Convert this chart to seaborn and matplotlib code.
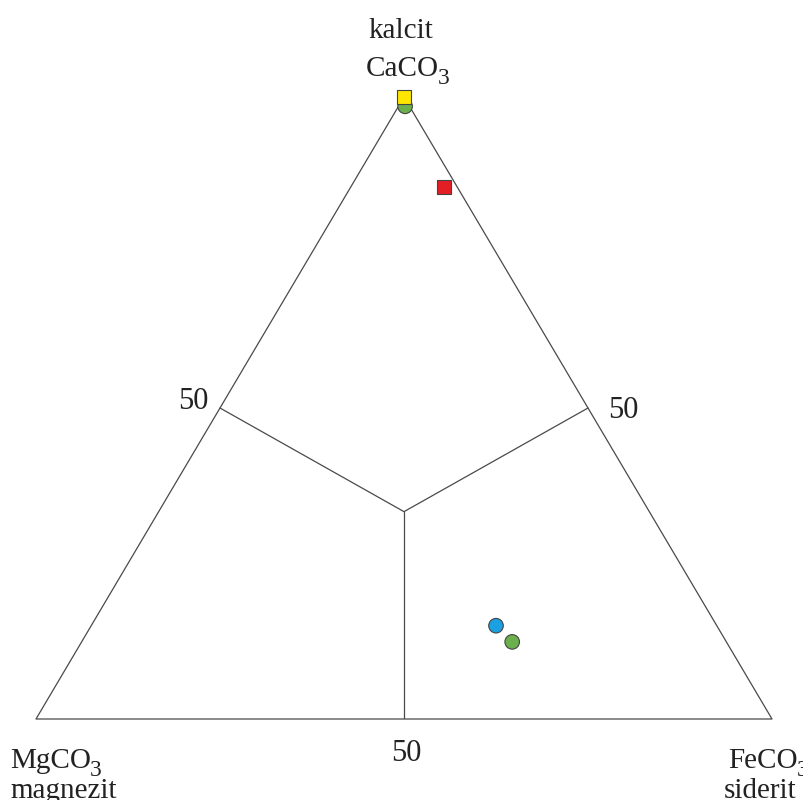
import numpy as np
import pandas as pd
import seaborn as sns
import matplotlib.pyplot as plt

# ternary compositions (mol %)
samples = ["z1", "z2", "z3", "z4", "z5"]
ca = [98.5, 100.0, 85.5, 15.0, 12.4]
mg = [0.6, 0.0, 1.8, 30.0, 29.1]
fe = [0.9, 0.0, 12.7, 55.0, 58.5]
colors = ["#6ab04c", "#ffe600", "#e31e24", "#1ba1e2", "#6ab04c"]
shapes = ["o", "s", "s", "o", "o"]

sns.set_theme(style="white")
plt.rcParams['font.family'] = ['Liberation Serif', 'DejaVu Serif']


def tern(c, m, f):
    c, m, f = np.asarray(c, float), np.asarray(m, float), np.asarray(f, float)
    s = c + m + f
    return f / s + 0.5 * c / s, c / s


df = pd.DataFrame({"sample": samples, "Ca": ca, "Mg": mg, "Fe": fe})
df["x"], df["y"] = tern(df.Ca, df.Mg, df.Fe)

W, H = 804, 800
fig = plt.figure(figsize=(W / 100, H / 100), dpi=100)
ax = fig.add_axes([36 / W, 81 / H, 736 / W, 622 / H])
ax.set_xlim(0, 1)
ax.set_ylim(0, 1)
ax.axis("off")

lc = "#4a4a4a"
# outline
vx, vy = tern([100, 0, 0, 100], [0, 100, 0, 0], [0, 0, 100, 0])
ax.plot(vx, vy, color=lc, lw=0.9, clip_on=False)
# 50 % field boundaries to centroid
cx, cy = tern(1, 1, 1)
for mid in [(50, 50, 0), (50, 0, 50), (0, 50, 50)]:
    mx, my = tern(*mid)
    ax.plot([mx, cx], [my, cy], color=lc, lw=0.9)

sns.scatterplot(data=df, x="x", y="y", hue="sample", style="sample",
                palette=dict(zip(samples, colors)),
                markers=dict(zip(samples, shapes)),
                s=110, edgecolor="#444444", linewidth=0.8,
                legend=False, ax=ax, clip_on=False, zorder=5)

fs = 21
renderer = fig.canvas.get_renderer()


def ftext(px, py, s, ha="left", size=fs):
    return fig.text(px / W, 1 - py / H, s, va="baseline", ha=ha,
                    fontsize=size, color="#222222")


def formula(px, py, base, sub="3"):
    # big, low subscript like in the original drawing
    t = ftext(px, py, base)
    bb = t.get_window_extent(renderer)
    ftext(bb.x1 - 1, py + 8, sub, size=fs * 0.8)


ftext(401, 38, "kalcit", ha="center")
formula(366, 76, "CaCO")
formula(10, 768, "MgCO")
ftext(10, 798, "magnezit")
formula(728, 768, "FeCO")
ftext(724, 798, "siderit")
ftext(193, 409, "50", ha="center", size=fs + 1)
ftext(623, 418, "50", ha="center", size=fs + 1)
ftext(406, 761, "50", ha="center", size=fs + 1)

fig.savefig("out.png", dpi=100, facecolor="white")
